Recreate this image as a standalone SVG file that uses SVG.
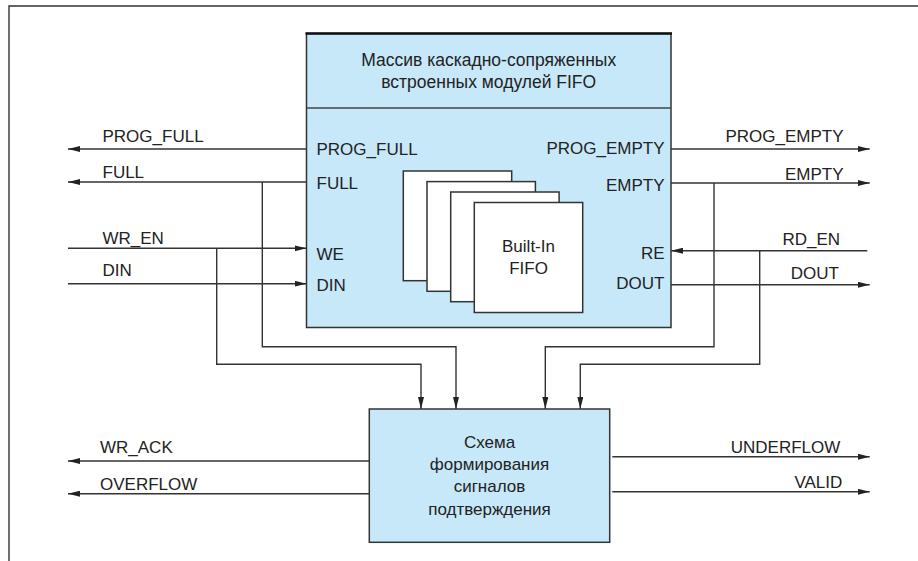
<svg xmlns="http://www.w3.org/2000/svg" width="918" height="561" viewBox="0 0 918 561">
<defs>
<marker id="arr" viewBox="0 0 12 6" refX="12" refY="3" markerWidth="12" markerHeight="6" markerUnits="userSpaceOnUse" orient="auto">
<path d="M0,0 L12,3 L0,6 z" fill="#222"/>
</marker>
<style>
.t{font-family:"Liberation Sans",Arial,sans-serif;font-size:17px;fill:#222}
.m{text-anchor:middle}
.e{text-anchor:end}
.ti{font-size:17.5px}
.blk{fill:#c7e8f8;stroke:#333;stroke-width:1.5}
.fifo{fill:#fff;stroke:#333;stroke-width:1.5}
.w{fill:none;stroke:#333;stroke-width:1.4}
.a{marker-end:url(#arr)}
</style>
</defs>
<rect width="918" height="561" fill="#fff"/>
<path d="M9,561 V6 H918" fill="none" stroke="#333" stroke-width="1.4"/>

<g id="fifo-array">
<rect class="blk" x="306.5" y="33.5" width="364.5" height="294"/>
<line x1="306.5" y1="108" x2="671" y2="108" stroke="#444" stroke-width="1.5"/>
<line x1="305.5" y1="33.5" x2="672" y2="33.5" stroke="#111" stroke-width="2.5"/>
<text class="t ti m" x="488.7" y="65.5">Массив каскадно-сопряженных</text>
<text class="t ti m" x="488.7" y="88">встроенных модулей FIFO</text>
<text class="t" x="316.5" y="155">PROG_FULL</text>
<text class="t" x="316.5" y="189">FULL</text>
<text class="t" x="316.5" y="259.5">WE</text>
<text class="t" x="316.5" y="291">DIN</text>
<text class="t e" x="664.5" y="154">PROG_EMPTY</text>
<text class="t e" x="664.5" y="190.5">EMPTY</text>
<text class="t e" x="664.5" y="258.5">RE</text>
<text class="t e" x="664.5" y="289">DOUT</text>
</g>

<g id="builtin-fifo">
<rect class="fifo" x="403.3" y="171" width="108.4" height="109.7"/>
<rect class="fifo" x="427" y="181.6" width="108.4" height="109.7"/>
<rect class="fifo" x="450.7" y="192" width="108.4" height="109.7"/>
<rect class="fifo" x="474.3" y="202.5" width="108.4" height="110"/>
<text class="t m" x="528.5" y="251.5">Built-In</text>
<text class="t m" x="528.5" y="274">FIFO</text>
</g>

<g id="ack-logic">
<rect class="blk" x="369.3" y="409" width="240.4" height="133.3"/>
<text class="t m" x="489.5" y="448.3">Схема</text>
<text class="t m" x="489.5" y="470">формирования</text>
<text class="t m" x="489.5" y="492">сигналов</text>
<text class="t m" x="489.5" y="515">подтверждения</text>
</g>

<g id="connectors">
<path class="w a" d="M306.5,149 H68"/>
<path class="w a" d="M306.5,182 H68"/>
<path class="w a" d="M262.3,182 V346.7 H456 V409"/>
<path class="w a" d="M68,248.3 H306.5"/>
<path class="w a" d="M216.7,248.3 V364.3 H421 V409"/>
<path class="w a" d="M68,283.7 H306.5"/>
<path class="w a" d="M671,149 H869.7"/>
<path class="w a" d="M671,183 H869.7"/>
<path class="w a" d="M714,183 V346.7 H545.3 V409"/>
<path class="w a" d="M867.3,250.7 H671"/>
<path class="w a" d="M759.7,250.7 V364.3 H580.3 V409"/>
<path class="w a" d="M671,284.7 H869.7"/>
<path class="w a" d="M369.3,461 H68"/>
<path class="w a" d="M369.3,493.7 H68"/>
<path class="w a" d="M612.3,456.7 H869.7"/>
<path class="w a" d="M612.3,491.7 H869.7"/>
</g>

<g id="labels">
<text class="t" x="102.5" y="142">PROG_FULL</text>
<text class="t" x="102.5" y="177.5">FULL</text>
<text class="t" x="102.5" y="243.5">WR_EN</text>
<text class="t" x="102.5" y="276">DIN</text>
<text class="t" x="100" y="453">WR_ACK</text>
<text class="t" x="100" y="490">OVERFLOW</text>
<text class="t e" x="843.5" y="142">PROG_EMPTY</text>
<text class="t e" x="843.5" y="180">EMPTY</text>
<text class="t e" x="840" y="245">RD_EN</text>
<text class="t e" x="839" y="278.5">DOUT</text>
<text class="t e" x="840.3" y="453">UNDERFLOW</text>
<text class="t e" x="842.3" y="488">VALID</text>
</g>
</svg>
